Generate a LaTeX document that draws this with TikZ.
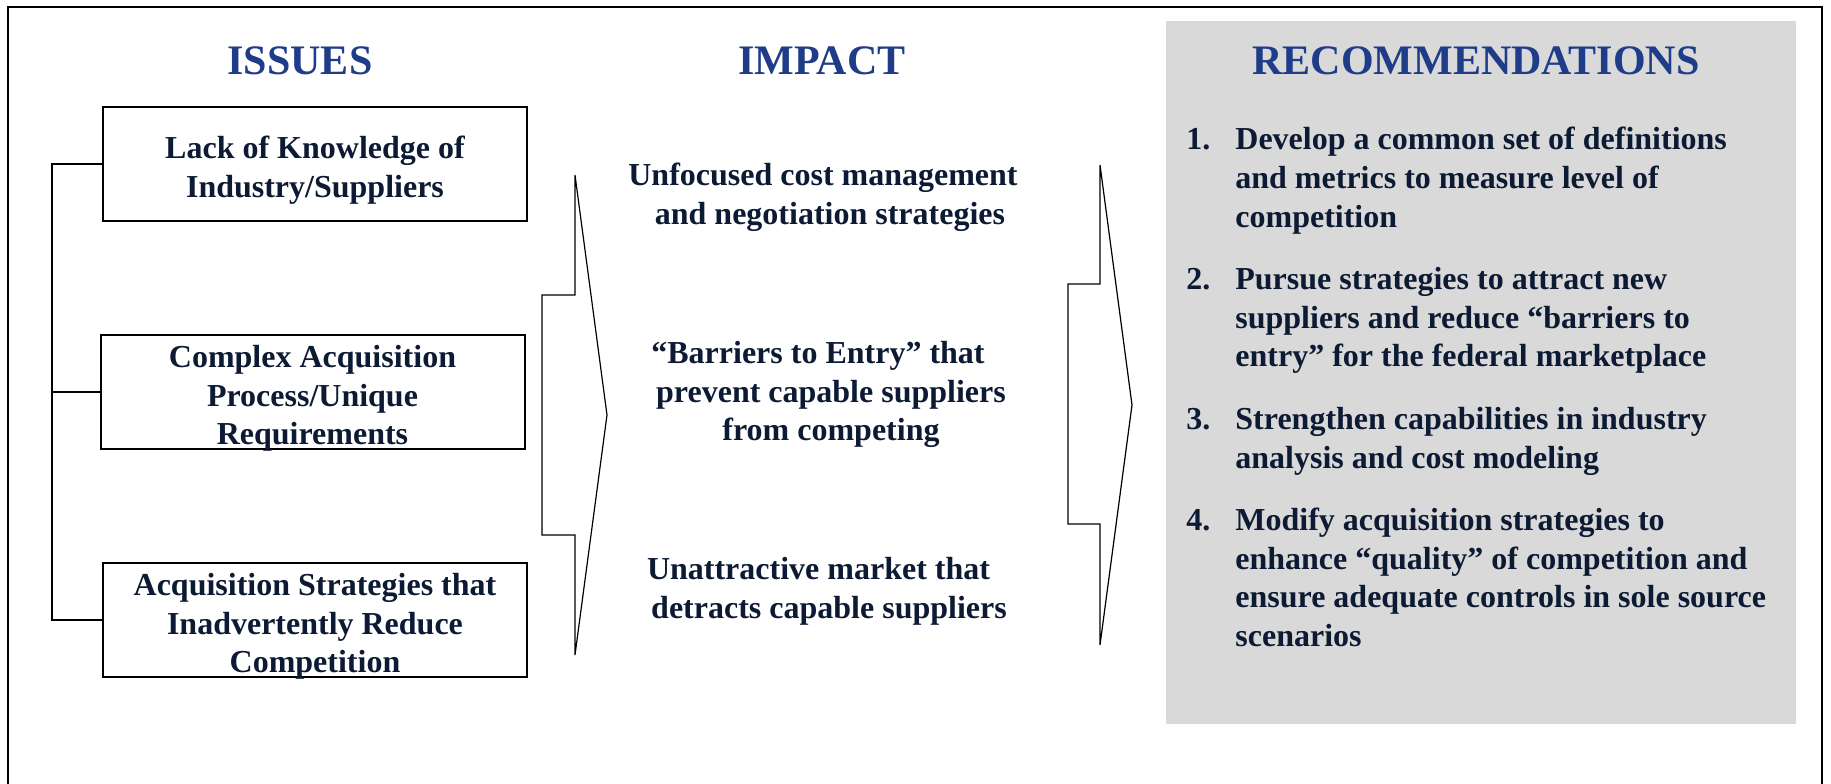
\documentclass[tikz,border=0pt]{standalone}
\usepackage{fontspec}
\setmainfont{Liberation Serif}
\definecolor{titleblue}{RGB}{31,60,136}
\definecolor{navytext}{RGB}{12,26,51}
\definecolor{recgray}{RGB}{217,217,217}
\begin{document}
\begin{tikzpicture}[x=0.5pt,y=-0.5pt,
  title/.style={font=\fontsize{21pt}{25pt}\selectfont\bfseries, text=titleblue, inner sep=0pt},
  body/.style={font=\fontsize{16pt}{19.3pt}\selectfont\bfseries, text=navytext, align=center, inner sep=0pt},
  issuebox/.style={draw=black, line width=1pt, minimum width=212pt, minimum height=57pt, inner sep=0pt},
  conn/.style={draw=black, line width=1pt},
  brace/.style={draw=black, line width=0.6pt, line join=miter}]
\clip (0,0) rectangle (1831,783);
% outer frame
\draw[line width=0.8pt] (8,7) rectangle (1822,800);
% recommendations background
\node[fill=recgray, inner sep=0pt, minimum width=315pt, minimum height=351.5pt] (recbox) at (1481,372.5) {};
% titles
\node[title] (tissues) at (300,61) {ISSUES};
\node[title] (timpact) at (822,61) {IMPACT};
\node[title] (trec) at (1476,61) {RECOMMENDATIONS};
% issue boxes
\node[issuebox] (b1) at (315,164) {};
\node[issuebox] (b2) at (312.5,392) {};
\node[issuebox] (b3) at (315,619.5) {};
\node[body] (b1t) at ([yshift=-3pt]b1.center) {Lack of Knowledge of\\Industry/Suppliers};
\node[body] (b2t) at ([yshift=-3.2pt]b2.center) {Complex Acquisition\\Process/Unique\\Requirements};
\node[body] (b3t) at ([yshift=-3.5pt]b3.center) {Acquisition Strategies that\\Inadvertently Reduce\\Competition};
% spine connector
\coordinate (spine) at (52,400);
\draw[conn] (b1.west) -- (b1.west -| spine) -- (b3.west -| spine) -- (b3.west);
\draw[conn] (b2.west) -- (b2.west -| spine);
% first brace arrow
\draw[brace] (575,175) -- (607,415) -- (575,655) -- (575,535) -- (542,535) -- (542,295) -- (575,295) -- cycle;
% impact texts
\node[body] (i1) at (830,197.5) {Unfocused cost management\hspace*{7pt}\\and negotiation strategies};
\node[body] (i2) at (831,394.5) {``Barriers to Entry'' that\hspace*{13pt}\\prevent capable suppliers\\from competing};
\node[body] (i3) at (829,591.5) {Unattractive market that\hspace*{10.5pt}\\detracts capable suppliers};
% second brace arrow
\draw[brace] (1100,165) -- (1132,405) -- (1100,645) -- (1100,524) -- (1068,524) -- (1068,284) -- (1100,284) -- cycle;
% recommendations list
\node[body, align=left, anchor=north west] (reclist) at (1186,127) {%
\makebox[24.5pt][l]{1.}Develop a common set of definitions\\
\hspace*{24.5pt}and metrics to measure level of\\
\hspace*{24.5pt}competition\\[12pt]
\makebox[24.5pt][l]{2.}Pursue strategies to attract new\\
\hspace*{24.5pt}suppliers and reduce ``barriers to\\
\hspace*{24.5pt}entry'' for the federal marketplace\\[12pt]
\makebox[24.5pt][l]{3.}Strengthen capabilities in industry\\
\hspace*{24.5pt}analysis and cost modeling\\[12pt]
\makebox[24.5pt][l]{4.}Modify acquisition strategies to\\
\hspace*{24.5pt}enhance ``quality'' of competition and\\
\hspace*{24.5pt}ensure adequate controls in sole source\\
\hspace*{24.5pt}scenarios};
\end{tikzpicture}
\end{document}
